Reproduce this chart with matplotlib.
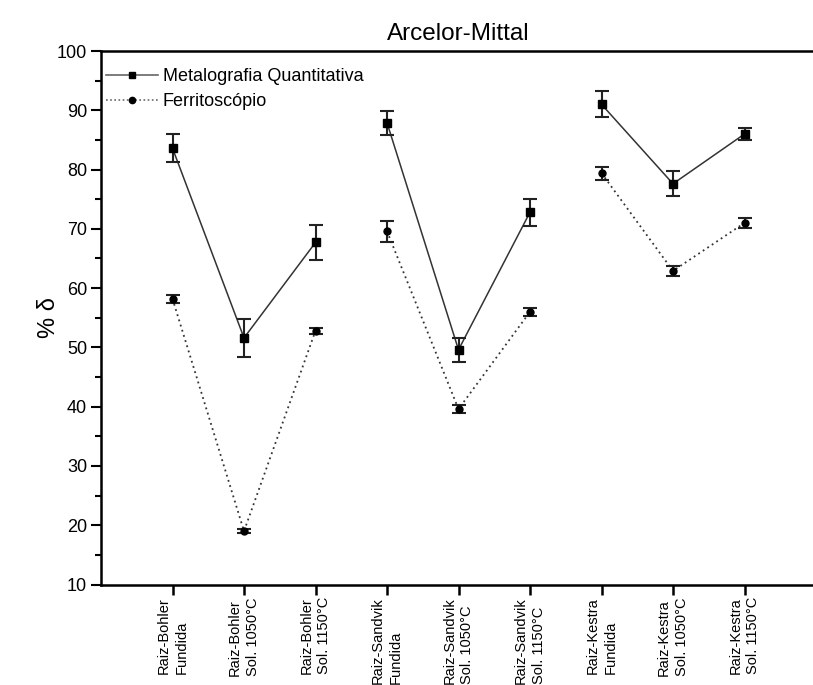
import matplotlib
matplotlib.use("Agg")
import matplotlib.pyplot as plt
from matplotlib.ticker import MultipleLocator

plt.rcParams['font.family'] = ['Liberation Sans', 'DejaVu Sans']

categories = [
    "Raiz-Bohler\nFundida",
    "Raiz-Bohler\nSol. 1050°C",
    "Raiz-Bohler\nSol. 1150°C",
    "Raiz-Sandvik\nFundida",
    "Raiz-Sandvik\nSol. 1050°C",
    "Raiz-Sandvik\nSol. 1150°C",
    "Raiz-Kestra\nFundida",
    "Raiz-Kestra\nSol. 1050°C",
    "Raiz-Kestra\nSol. 1150°C",
]
# each steel (Bohler, Sandvik, Kestra) forms its own connected group of 3
group_size = 3

metalografia = [83.6, 51.6, 67.7, 87.9, 49.6, 72.8, 91.0, 77.6, 86.0]
metalografia_err = [2.4, 3.2, 3.0, 2.0, 2.0, 2.3, 2.2, 2.1, 1.0]

ferritoscopio = [58.2, 19.0, 52.8, 69.6, 39.6, 56.0, 79.4, 62.9, 71.0]
ferritoscopio_err = [0.7, 0.3, 0.5, 1.8, 0.6, 0.7, 1.1, 0.8, 0.8]

x = list(range(len(categories)))

fig = plt.figure(figsize=(8.13, 6.85), dpi=100)
ax = fig.add_axes([101 / 813, 1 - 584.5 / 685, 715 / 813, (584.5 - 51) / 685])

# connecting lines, one segment chain per steel group
for g in range(0, len(x), group_size):
    xs = x[g:g + group_size]
    ax.plot(xs, metalografia[g:g + group_size], color='#333333', lw=1.1, ls='-', zorder=2)
    ax.plot(xs, ferritoscopio[g:g + group_size], color='#333333', lw=1.3,
            ls=(0, (1, 2)), zorder=2)

# error bars and markers
ax.errorbar(x, metalografia, yerr=metalografia_err, fmt='none', ecolor='#222222',
            elinewidth=1.5, capsize=4.7, capthick=1.5, zorder=3)
ax.errorbar(x, ferritoscopio, yerr=ferritoscopio_err, fmt='none', ecolor='#222222',
            elinewidth=1.5, capsize=4.7, capthick=1.5, zorder=3)
ax.plot(x, metalografia, ls='none', marker='s', ms=5.5, color='black', zorder=4)
ax.plot(x, ferritoscopio, ls='none', marker='o', ms=5, color='black', zorder=4)

# legend proxies
h1, = ax.plot([], [], color='#666666', lw=1.2, ls='-', marker='s', ms=4.5,
              mfc='black', mec='black')
h2, = ax.plot([], [], color='#666666', lw=1.2, ls=(0, (1, 1.5)), marker='o', ms=4.5,
              mfc='black', mec='black')
leg = ax.legend([h1, h2], ["Metalografia Quantitativa", "Ferritoscópio"],
                loc='upper left', bbox_to_anchor=(0.002, 0.975), frameon=False,
                fontsize=13, handlelength=2.9, handletextpad=0.25,
                labelspacing=0.45, borderaxespad=0.0, borderpad=0.2)

ax.set_xlim(-1, 9)
ax.set_ylim(10, 100)
ax.set_xticks(x)
ax.set_xticklabels(categories, rotation=90, va='top', ha='center',
                   multialignment='left', fontsize=10.5, linespacing=1.35)
ax.yaxis.set_major_locator(MultipleLocator(10))
ax.yaxis.set_minor_locator(MultipleLocator(5))
ax.tick_params(axis='y', which='major', direction='out', length=7, width=1.5,
               labelsize=13, pad=3)
ax.tick_params(axis='y', which='minor', direction='out', length=4, width=1.5)
ax.tick_params(axis='x', which='major', direction='out', length=7, width=1.8, pad=2)

for side in ('left', 'bottom', 'top'):
    ax.spines[side].set_linewidth(1.8)
ax.spines['right'].set_visible(False)

ax.set_ylabel("% δ", fontsize=17, labelpad=-2)
ax.set_title("Arcelor-Mittal", fontsize=17.5, pad=8)

fig.savefig("out.png", dpi=100)
